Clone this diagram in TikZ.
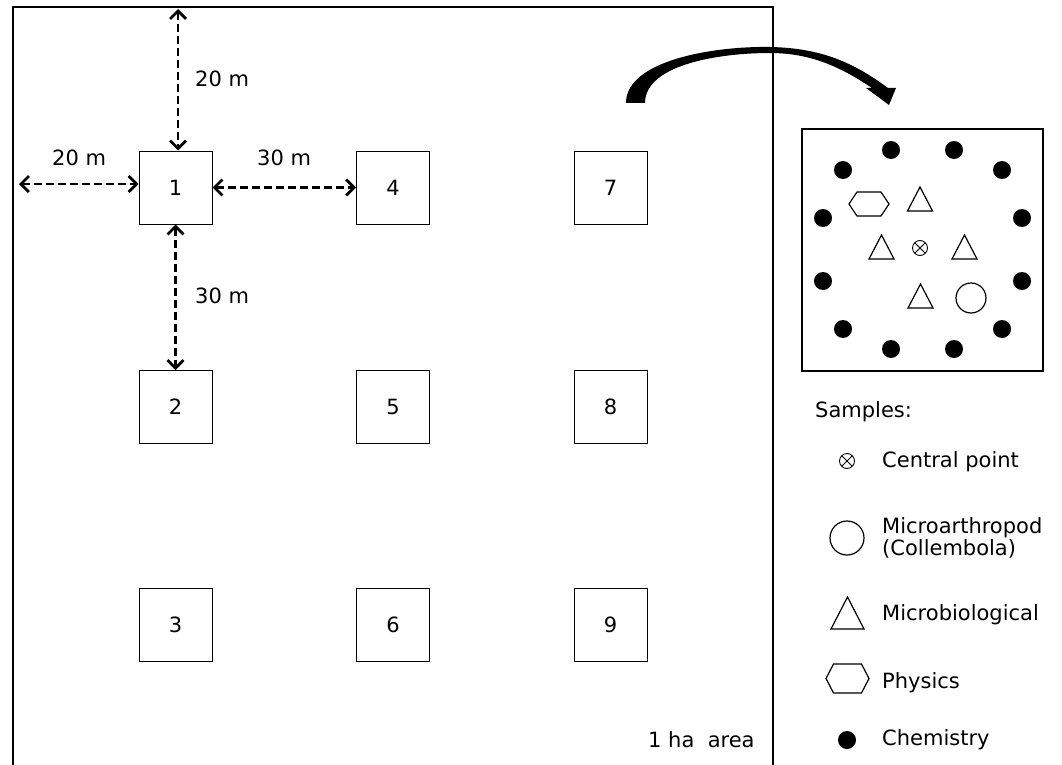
\documentclass[tikz,border=0pt]{standalone}
\usepackage{fontspec}
\setmainfont{DejaVu Sans}
\usetikzlibrary{arrows.meta}
\tikzset{
  plot/.style={draw, line width=1pt, minimum size=73pt, inner sep=0pt, font=\fontsize{21}{24}\selectfont},
  lbl/.style={anchor=base west, inner sep=0pt, font=\fontsize{21}{24}\selectfont},
  dist/.style={line width=2.8pt, dash pattern=on 8pt off 4pt, {Straight Barb[length=8pt,width=16pt]}-{Straight Barb[length=8pt,width=16pt]}},
  sym/.style={line width=1.2pt},
  tri/.pic={\draw[sym] (0,-12) -- (12.5,12) -- (-12.5,12) -- cycle;},
  bigtri/.pic={\draw[sym] (0,-16) -- (16.5,16) -- (-16.5,16) -- cycle;},
  hexa/.pic={\draw[sym] (-20,0) -- (-12,-12) -- (12,-12) -- (20,0) -- (12,12) -- (-12,12) -- cycle;},
  bighexa/.pic={\draw[sym] (-21.5,0) -- (-14,-14.5) -- (14,-14.5) -- (21.5,0) -- (14,14.5) -- (-14,14.5) -- cycle;},
  ocross/.pic={\draw[line width=0.9pt] (0,0) circle (7.5pt) (-5.3,-5.3) -- (5.3,5.3) (-5.3,5.3) -- (5.3,-5.3);},
}
\begin{document}
\begin{tikzpicture}[x=1pt,y=-1pt]
\useasboundingbox (0,0) rectangle (1062,765);
% 1 ha area
\draw[line width=1.3pt] (13,767) -- (13,7) -- (773,7) -- (773,767);
% plots
\node[plot] (b1) at (175.5,187.5) {1};
\node[plot] (b2) at (175.5,407) {2};
\node[plot] (b3) at (175.5,624.5) {3};
\node[plot] (b4) at (393,187.5) {4};
\node[plot] (b5) at (393,407) {5};
\node[plot] (b6) at (393,624.5) {6};
\node[plot] (b7) at (610.5,187.5) {7};
\node[plot] (b8) at (610.5,407) {8};
\node[plot] (b9) at (610.5,624.5) {9};
% distance arrows
\coordinate (top) at (178,9);
\coordinate (lft) at (19,184);
\draw[dist] (top) -- (top |- b1.north);
\draw[dist] (lft) -- (lft -| b1.west);
\draw[dist] (b1.east) -- (b4.west);
\draw[dist] (b1.south) -- (b2.north);
\node[lbl] (t1) at (195,86.5) {20 m};
\node[lbl] (t2) at (52,165) {20 m};
\node[lbl] (t3) at (257,165) {30 m};
\node[lbl] (t4) at (195,303) {30 m};
\node[lbl] (area) at (648,747) {1 ha\ \ area};
% curved arrow
\fill (626,103) .. controls (626,60) and (715,46) .. (770,47)
      .. controls (822,48) and (854,63) .. (888,88)
      -- (896,88) -- (889,105) -- (866,88) -- (872,88)
      .. controls (842,68) and (812,53) .. (770,53)
      .. controls (718,53) and (645,65) .. (645,103) -- cycle;
% sample plot
\draw[line width=1.2pt] (802,129) rectangle (1043,371);
\foreach \p in {(891,150),(954,150),(843,170),(1002,170),(823,218),(1022,218),
                (823,281),(1022,281),(843,329),(1002,329),(891,349),(954,349)}
  \fill \p circle (9pt);
\pic at (869,204) {hexa};
\pic at (920,199) {tri};
\pic at (881.5,247) {tri};
\pic at (964.5,247) {tri};
\pic at (920.5,296) {tri};
\pic at (920,248) {ocross};
\draw[sym] (971,298) circle (15pt);
% legend
\node[lbl] (samples) at (815,417) {Samples:};
\pic at (847,461) {ocross};
\node[lbl] (l1) at (882,467) {Central point};
\draw[sym] (847,538) circle (17pt);
\node[lbl, align=left, font=\fontsize{21}{22}\selectfont] (l2) at (882,555) {Microarthropod\\(Collembola)};
\pic at (847.5,613) {bigtri};
\node[lbl] (l3) at (882,620) {Microbiological};
\pic at (847.5,678.5) {bighexa};
\node[lbl] (l4) at (882,688) {Physics};
\fill (847,740) circle (9pt);
\node[lbl] (l5) at (882,745) {Chemistry};
\end{tikzpicture}
\end{document}
